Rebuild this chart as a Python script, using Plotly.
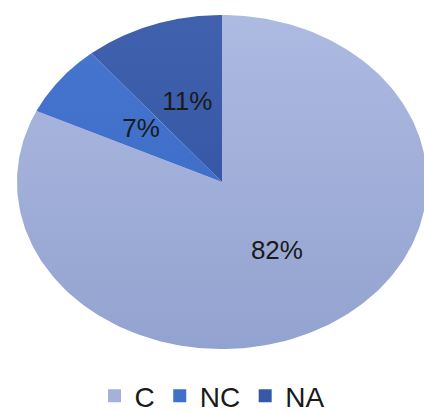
import numpy as np
import plotly.graph_objects as go

# ---- data ----
labels = ["C", "NC", "NA"]
values = [82, 7, 11]
pct_text = ["82%", "7%", "11%"]

# ---- styles ----
grad_top = ["#ADBAE2", "#4676D0", "#4062AE"]
grad_bot = ["#93A3CF", "#3A68C2", "#2D4D9D"]
legend_col = ["#A3B1DB", "#4070CA", "#3658A5"]
FONT = "Liberation Sans, Arial, sans-serif"

fig = go.Figure()

total = float(sum(values))
start = 90.0  # degrees, going clockwise
label_pos = []
for lab, v, ct, cb in zip(labels, values, grad_top, grad_bot):
    sweep = 360.0 * v / total
    th = np.radians(np.linspace(start, start - sweep, 240))
    xs = np.concatenate([[0.0], np.cos(th), [0.0]])
    ys = np.concatenate([[0.0], np.sin(th), [0.0]])
    fig.add_trace(go.Scatter(
        x=xs, y=ys, mode="lines", fill="toself",
        line=dict(width=0, color=cb),
        fillgradient=dict(type="vertical", start=-1, stop=1,
                          colorscale=[[0, cb], [1, ct]]),
        showlegend=False, hoverinfo="skip"))
    mid = np.radians(start - sweep / 2)
    label_pos.append((0.5 * np.cos(mid), 0.5 * np.sin(mid)))
    start -= sweep

fig.add_trace(go.Scatter(
    x=[p[0] for p in label_pos], y=[p[1] for p in label_pos],
    mode="text", text=pct_text,
    textfont=dict(family=FONT, size=26, color="#1a1a1a"),
    showlegend=False, hoverinfo="skip"))

for lab, col in zip(labels, legend_col):
    fig.add_trace(go.Scatter(
        x=[None], y=[None], mode="markers", name=lab,
        marker=dict(symbol="square", size=13, color=col)))

W, H = 424, 413
cx_px, rx_px = 222, 205
cy_px, ry_px = 182, 167
x0 = -cx_px / rx_px
x1 = x0 + W / rx_px
y1 = cy_px / ry_px
y0 = y1 - H / ry_px

fig.update_layout(
    width=W, height=H,
    margin=dict(l=0, r=0, t=0, b=0, autoexpand=False),
    paper_bgcolor="white", plot_bgcolor="white",
    xaxis=dict(range=[x0, x1], visible=False, fixedrange=True),
    yaxis=dict(range=[y0, y1], visible=False, fixedrange=True),
    legend=dict(orientation="h", x=0.5, xanchor="center",
                y=1 - 396 / H, yanchor="middle",
                font=dict(family=FONT, size=28, color="#1a1a1a"),
                itemwidth=30, tracegroupgap=0),
    font=dict(family=FONT),
)

fig.write_html("out.html")
